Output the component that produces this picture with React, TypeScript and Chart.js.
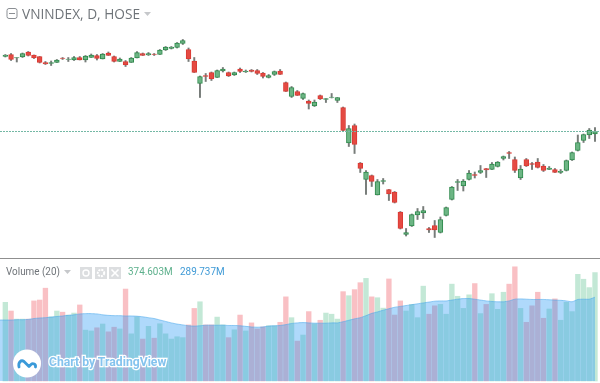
import React, { useEffect, useRef } from "react";
import { Chart, registerables } from "chart.js";

Chart.register(...registerables);

const title = "VNINDEX, D, HOSE";
const volumeTitle = "Volume (20)";
const volumeValue = "374.603M";
const maValue = "289.737M";
const watermark = "Chart by TradingView";

const opens = [987,991,984,986,996,990,987,975,973,975,984,981,980,985,980,985,989,982,994,987,977,977,975,984,993,990,992,991,1000,1003,1005,1013,1001,978,933,949,955,945,958,955,950,962,956,960,959,954,945,951,958,935,907,917,903,898,888,909,901,905,899,885,814,849,774,741,749,710,737,721,716,676,631,648,670,674,643,649,635,669,701,735,728,741,751,755,763,761,767,783,795,781,744,781,773,776,768,761,761,755,759,780,799,819,830,832];
const highs = [991,993,985,994,997,990,987,977,978,981,985,985,987,987,989,992,991,993,996,988,984,979,985,997,994,995,993,1001,1007,1007,1015,1021,1004,985,948,953,956,960,965,956,956,964,960,961,961,955,951,958,961,936,927,919,914,900,900,910,903,913,905,886,849,852,775,759,750,741,743,721,717,677,643,672,683,687,645,659,666,686,727,741,741,759,756,769,763,775,777,788,797,786,769,783,775,783,771,767,763,761,780,796,830,832,843,845];
const lows = [986,979,976,985,988,983,974,971,969,975,981,977,979,980,976,985,980,982,989,976,977,967,975,984,989,989,989,991,999,1002,1004,1011,977,955,905,937,939,945,956,947,949,955,955,956,951,944,944,949,951,917,905,909,901,882,887,901,895,904,895,838,807,793,755,711,727,710,732,699,694,642,628,647,661,663,635,625,634,668,700,719,718,740,744,753,745,761,766,780,783,755,741,767,761,764,757,761,755,753,758,779,798,815,823,817];
const closes = [990,981,985,993,989,984,975,972,975,980,983,982,985,980,988,990,983,992,989,977,982,970,984,995,989,993,991,1000,1006,1006,1014,1019,982,955,947,947,942,959,962,948,955,957,958,957,953,947,949,957,951,917,925,909,913,893,896,902,903,906,905,839,843,811,763,756,737,737,739,712,695,643,635,671,677,679,640,640,661,685,726,737,738,754,749,759,760,772,776,787,793,759,762,768,771,765,759,764,755,758,779,795,815,831,840,837];
const volumes = [272,242,214,214,214,277,280,321,222,242,238,228,235,263,176,173,184,197,170,186,180,318,163,222,145,189,148,198,163,145,153,150,194,251,274,194,194,221,194,150,177,228,173,201,180,187,191,191,203,291,219,138,159,240,198,210,235,231,214,309,295,316,340,355,291,288,252,353,228,277,242,265,219,328,231,260,265,231,335,293,251,298,337,233,265,302,248,307,335,395,251,203,260,307,217,249,284,210,272,240,369,352,323,375];
const volumeMA = [211,211,211,212,212,213,216,218,219,221,223,225,227,229,232,233,233,232,229,227,226,226,225,225,224,222,219,216,211,206,201,197,194,191,190,191,193,193,193,193,192,192,191,189,187,186,187,190,191,192,195,199,201,202,201,200,200,200,201,201,205,210,215,219,226,234,239,245,250,255,258,261,264,267,270,273,276,277,277,280,283,285,285,283,280,277,275,274,274,277,283,284,283,282,282,282,281,280,279,277,274,282,283,283,290];

const UP = "#6cb584";
const UP_EDGE = "#2f8a4c";
const DOWN = "#e54a42";
const DOWN_EDGE = "#d93a34";
const WICK = "#777c79";

const isUp = (i: number) => closes[i] >= opens[i];

const lastPriceLine = {
  id: "lastPriceLine",
  afterDatasetsDraw(chart: any) {
    const y = chart.scales.y.getPixelForValue(closes[closes.length - 1]);
    const c = chart.ctx;
    c.save();
    c.strokeStyle = "#74b8a5";
    c.lineWidth = 1;
    c.setLineDash([2, 1]);
    c.beginPath();
    c.moveTo(0, Math.round(y) - 0.5);
    c.lineTo(chart.width, Math.round(y) - 0.5);
    c.stroke();
    c.restore();
  },
};

const Triangle = ({ x, y, color }: any) => (
  <svg style={{ position: "absolute", left: x, top: y }} width="7" height="4">
    <path d="M0 0H7L3.5 4Z" fill={color} />
  </svg>
);

const IconBox = ({ x, children }: any) => (
  <svg style={{ position: "absolute", left: x, top: 267 }} width="12" height="12" viewBox="0 0 12 12">
    <rect width="12" height="12" fill="#dcdee0" />
    {children}
  </svg>
);

export default function App() {
  const ref = useRef<HTMLCanvasElement>(null);

  useEffect(() => {
    document.body.style.margin = "0";
    const chart = new Chart(ref.current as HTMLCanvasElement, {
      type: "bar",
      plugins: [lastPriceLine],
      data: {
        datasets: [
          {
            type: "line",
            label: "Volume MA",
            yAxisID: "yv",
            order: 3,
            data: volumeMA.map((v, i) => ({ x: i - 1, y: v })),
            borderColor: "rgba(70,165,235,0.55)",
            borderWidth: 1,
            backgroundColor: "rgba(33,150,243,0.36)",
            fill: "origin",
            pointRadius: 0,
            tension: 0.2,
          },
          {
            label: "Volume",
            yAxisID: "yv",
            order: 4,
            grouped: false,
            barThickness: 4.7,
            data: volumes.map((v, i) => ({ x: i, y: v })),
            backgroundColor: volumes.map((_, i) =>
              isUp(i) ? "rgba(88,190,140,0.36)" : "rgba(238,90,100,0.38)"
            ),
          },
          {
            label: "Wick",
            yAxisID: "y",
            order: 2,
            grouped: false,
            barThickness: 1.3,
            data: opens.map((_, i) => ({ x: i, y: [lows[i], highs[i]] })),
            backgroundColor: WICK,
          },
          {
            label: "Body",
            yAxisID: "y",
            order: 1,
            grouped: false,
            barThickness: 4.8,
            borderWidth: 1,
            borderSkipped: false,
            data: opens.map((o, i) => ({ x: i, y: [o, closes[i]] })),
            backgroundColor: opens.map((_, i) => (isUp(i) ? UP : DOWN)),
            borderColor: opens.map((_, i) => (isUp(i) ? UP_EDGE : DOWN_EDGE)),
          },
        ],
      } as any,
      options: {
        responsive: false,
        animation: false,
        events: [],
        layout: { padding: 0 },
        plugins: { legend: { display: false }, tooltip: { enabled: false }, title: { display: false } },
        scales: {
          x: { type: "linear", display: false, min: -0.931, max: 103.874, offset: false },
          y: { type: "linear", display: false, min: 334, max: 1100 },
          yv: { type: "linear", display: false, min: -7, max: 1318 },
        },
      } as any,
    });
    return () => chart.destroy();
  }, []);

  const base: React.CSSProperties = {
    position: "absolute",
    whiteSpace: "nowrap",
    fontFamily: "'Open Sans', sans-serif",
  };
  const narrow: React.CSSProperties = {
    fontFamily: "Roboto, sans-serif",
    transformOrigin: "left center",
    lineHeight: "15px",
    top: 264,
    fontSize: 11,
  };

  return (
    <div style={{ position: "fixed", left: 0, top: 0, width: 600, height: 383, background: "#fff", overflow: "hidden" }}>
      <canvas ref={ref} width={600} height={383} style={{ display: "block", width: 600, height: 383 }} />

      <div style={{ position: "absolute", left: 0, top: 258, width: 600, height: 1, background: "#8f8f8f" }} />

      <svg style={{ position: "absolute", left: 6, top: 8 }} width="12" height="11">
        <rect x="1" y="0.5" width="10" height="10" rx="2" fill="none" stroke="#8b8f94" />
        <path d="M3 5.5H9" stroke="#8b8f94" />
      </svg>
      <div style={{ ...base, left: 22, top: 5, fontSize: 13.7, lineHeight: "18px", color: "#6f7479" }}>{title}</div>
      <Triangle x={144} y={12} color="#c6c8cb" />

      <div style={{ ...base, ...narrow, left: 6, transform: "scaleX(0.9)", color: "#6f7479" }}>{volumeTitle}</div>
      <Triangle x={64} y={270} color="#c6c8cb" />
      <IconBox x={80}>
        <circle cx="6" cy="6" r="3" fill="none" stroke="#fff" strokeWidth="1.4" />
      </IconBox>
      <IconBox x={95}>
        <circle cx="6" cy="6" r="3.2" fill="none" stroke="#fff" strokeWidth="2" strokeDasharray="2 1" />
      </IconBox>
      <IconBox x={109}>
        <path d="M2.5 2.5L9.5 9.5M9.5 2.5L2.5 9.5" stroke="#fff" strokeWidth="1.6" />
      </IconBox>
      <div style={{ ...base, ...narrow, left: 128, transform: "scaleX(0.9)", color: "#5db08c" }}>{volumeValue}</div>
      <div style={{ ...base, ...narrow, left: 180, transform: "scaleX(0.9)", color: "#3f9ad6" }}>{maValue}</div>

      <svg style={{ position: "absolute", left: 12, top: 349 }} width="30" height="30" viewBox="0 0 30 30">
        <circle cx="15" cy="14.5" r="14" fill="#fff" />
        <path
          d="M7 18 C6 13.5 9 10.5 12 12.5 L17 17.5 L19 15.5 C21 13.5 24 15.5 23.5 18"
          fill="none"
          stroke="#3a9ad9"
          strokeWidth="2.8"
          strokeLinecap="round"
          strokeLinejoin="round"
        />
      </svg>
      <div
        style={{
          ...base,
          fontFamily: "Roboto, sans-serif",
          left: 49,
          top: 354,
          fontSize: 12.2,
          lineHeight: "17px",
          fontWeight: 700,
          color: "#84c3ee",
          WebkitTextStroke: "2.5px #ffffff",
          paintOrder: "stroke fill",
        } as any}
      >
        {watermark}
      </div>
    </div>
  );
}
